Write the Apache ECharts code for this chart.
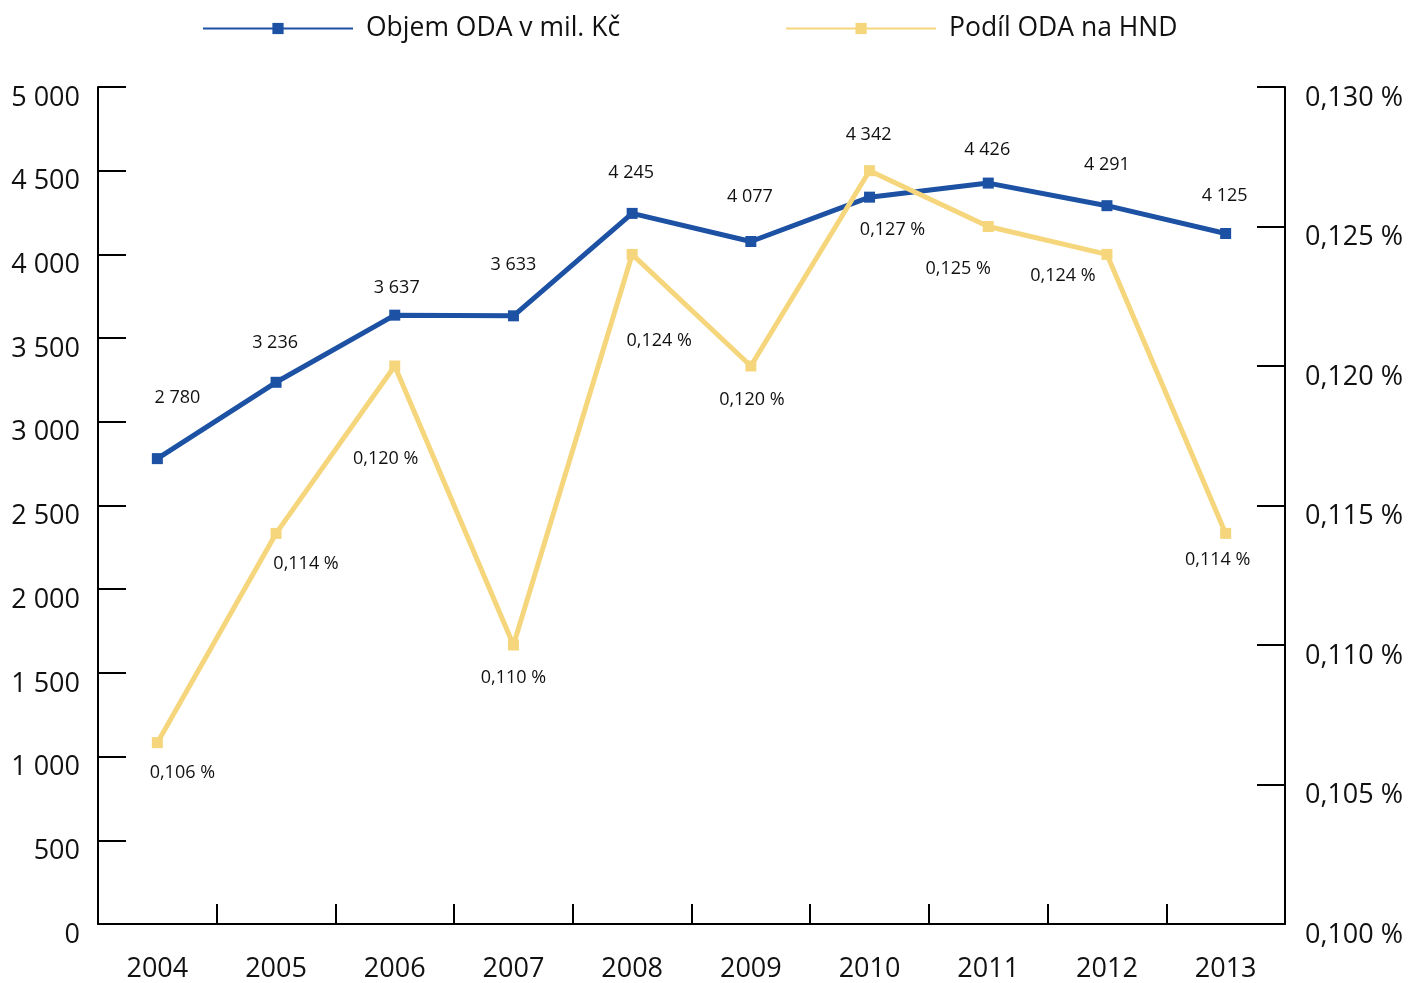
<!DOCTYPE html>
<html><head><meta charset="utf-8">
<script src="https://cdn.jsdelivr.net/npm/echarts@6/dist/echarts.min.js"></script>
<style>html,body{margin:0;padding:0;background:#fff}#c{width:1410px;height:983px}</style>
</head><body><div id="c"></div>
<script>
var years = ['2004','2005','2006','2007','2008','2009','2010','2011','2012','2013'];
var odaVolume = [2780, 3236, 3637, 3633, 4245, 4077, 4342, 4426, 4291, 4125];
var odaShare = [0.1065, 0.114, 0.120, 0.110, 0.124, 0.120, 0.127, 0.125, 0.124, 0.114];
var seriesNames = ['Objem ODA v mil. Kč', 'Podíl ODA na HND'];

// label layout (offsets from the marker centre), styling only
var blueLabelOffsets = [[20,-61],[-1,-39],[2,-27],[0,-51],[-1,-41],[-1,-45],[-1,-62],[-1,-33],[0,-41],[-1,-38]];
var yellowLabelOffsets = [[25,30],[30,30],[-9,93],[0,33],[27,86],[1,34],[23,59],[-30,42],[-44,21],[-8,26]];

var FONT = 'Open Sans';
var BLUE = '#1c51a3';
var YELLOW = '#f6d67c';

function fmtThousands(v){ return String(Math.round(v)).replace(/\B(?=(\d{3})+(?!\d))/g, ' '); }
function fmtPct(v){ var t = Math.floor(v*1000 + 1e-6)/1000; return t.toFixed(3).replace('.', ',') + ' %'; }

var chart = echarts.init(document.getElementById('c'), null, {renderer:'canvas'});
chart.setOption({
  animation:false,
  textStyle:{fontFamily:FONT},
  legend:{
    top:10, left:197, itemWidth:150, itemHeight:14, itemGap:165,
    textStyle:{fontFamily:FONT, fontSize:26.5, color:'#111', padding:[0,0,0,8]},
    data:[seriesNames[0], seriesNames[1]]
  },
  grid:{left:98, right:125, top:87, bottom:57, containLabel:false},
  xAxis:{
    type:'category', data:years, boundaryGap:true,
    axisLine:{lineStyle:{color:'#000', width:2}},
    axisTick:{show:true, inside:true, length:20, lineStyle:{color:'#000', width:2}},
    axisLabel:{fontFamily:FONT, fontSize:27, color:'#111', margin:32}
  },
  yAxis:[{
    type:'value', min:0, max:5000, interval:500, position:'left',
    axisLine:{show:true, lineStyle:{color:'#000', width:2}},
    axisTick:{show:true, inside:true, length:28, lineStyle:{color:'#000', width:2}},
    splitLine:{show:false},
    axisLabel:{fontFamily:FONT, fontSize:27, color:'#111', margin:18, verticalAlign:'top', lineHeight:22, formatter:fmtThousands}
  },{
    type:'value', min:0.100, max:0.130, interval:0.005, position:'right',
    axisLine:{show:true, lineStyle:{color:'#000', width:2}},
    axisTick:{show:true, inside:true, length:28, lineStyle:{color:'#000', width:2}},
    splitLine:{show:false},
    axisLabel:{fontFamily:FONT, fontSize:27, color:'#111', margin:20, verticalAlign:'top', lineHeight:22, formatter:function(v){return v.toFixed(3).replace('.', ',')+' %';}}
  }],
  series:[{
    name:seriesNames[0], type:'line', yAxisIndex:0, data:odaVolume.map(function(v,i){
      return {value:v, label:{offset:blueLabelOffsets[i]}};
    }),
    symbol:'rect', symbolSize:11, lineStyle:{color:BLUE, width:5}, itemStyle:{color:BLUE},
    label:{show:true, position:'inside', fontFamily:FONT, fontSize:18, color:'#111',
      formatter:function(p){return fmtThousands(p.value);}}
  },{
    name:seriesNames[1], type:'line', yAxisIndex:1, data:odaShare.map(function(v,i){
      return {value:v, label:{offset:yellowLabelOffsets[i]}};
    }),
    symbol:'rect', symbolSize:11, lineStyle:{color:YELLOW, width:5}, itemStyle:{color:YELLOW},
    label:{show:true, position:'inside', fontFamily:FONT, fontSize:18, color:'#111',
      formatter:function(p){return fmtPct(p.value);}}
  }]
});
</script></body></html>
